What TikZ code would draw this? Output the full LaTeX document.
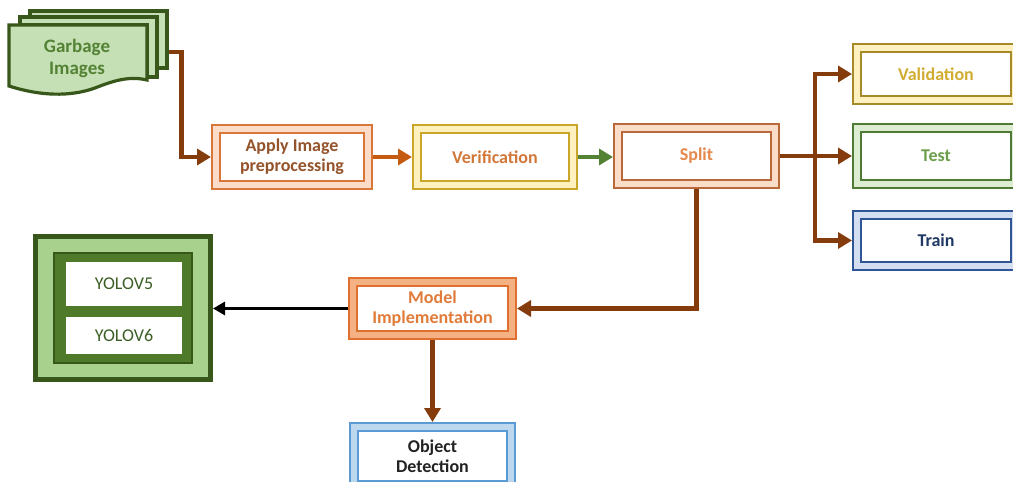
\documentclass[tikz,border=0pt]{standalone}
\usepackage{fontspec}
\setmainfont{Carlito}
\usetikzlibrary{arrows.meta}
\definecolor{gdark}{HTML}{38571A}
\definecolor{glight}{HTML}{C5E0B4}
\definecolor{gtext}{HTML}{548235}
\definecolor{ymid}{HTML}{A9D18E}
\definecolor{yinner}{HTML}{4E7A2A}
\definecolor{ytext}{HTML}{3A5E25}
\definecolor{arrbrown}{HTML}{843C0C}
\definecolor{arrorange}{HTML}{C55A11}
\definecolor{arrgreen}{HTML}{548235}
\definecolor{apB}{HTML}{D9773B}
\definecolor{apF}{HTML}{FBDCC8}
\definecolor{apT}{HTML}{94532A}
\definecolor{veB}{HTML}{C9A62A}
\definecolor{veF}{HTML}{FFF0C0}
\definecolor{veT}{HTML}{D2773A}
\definecolor{spB}{HTML}{B9683A}
\definecolor{spF}{HTML}{FBDCC8}
\definecolor{spT}{HTML}{E5884A}
\definecolor{vaB}{HTML}{A68A2A}
\definecolor{vaF}{HTML}{FFF0C0}
\definecolor{vaT}{HTML}{D2AC30}
\definecolor{teB}{HTML}{4F7A35}
\definecolor{teF}{HTML}{DDEDD2}
\definecolor{teT}{HTML}{6A9E4A}
\definecolor{trB}{HTML}{2F5597}
\definecolor{trF}{HTML}{D3DEF1}
\definecolor{trT}{HTML}{1F3864}
\definecolor{moB}{HTML}{E07030}
\definecolor{moF}{HTML}{F4B183}
\definecolor{moT}{HTML}{E07B39}
\definecolor{obB}{HTML}{5B9BD5}
\definecolor{obF}{HTML}{BDD7EE}
\definecolor{obT}{HTML}{222222}
\tikzset{
  dbox/.style n args={3}{draw=#1, double=#2, double distance=5.5pt, line width=2.2pt,
    fill=white, text=#3, outer sep=5pt, inner sep=0pt, align=center,
    font=\bfseries\fontsize{18}{20}\selectfont},
  tip/.style={-{Triangle[length=14pt,width=16pt]}},
  barrow/.style={draw=arrbrown, line width=4.2pt, tip},
  oarrow/.style={draw=arrorange, line width=3.8pt, tip},
  garrow/.style={draw=arrgreen, line width=3.8pt, tip},
  karrow/.style={draw=black, line width=3pt, -{Triangle[length=12pt,width=13pt]}},
  doc/.style={fill=glight, draw=gdark, line width=3.2pt, line join=miter},
  ybox/.style={fill=white, draw=none, text=ytext, inner sep=0pt,
    font=\fontsize{18}{20}\selectfont}
}
\begin{document}
\begin{tikzpicture}[x=1pt,y=-1pt]
\clip (0,0) rectangle (1013,482);
% Garbage images (multi-document)
\draw[doc] (30,11) -- (167,11) -- (167,68) -- (157,68) -- (157,17) -- (30,17) -- cycle;
\draw[doc] (20,17) -- (157,17) -- (157,77) -- (147,77) -- (147,25) -- (20,25) -- cycle;
\draw[doc] (9,25) -- (147,25) -- (147,80) .. controls (130,76) and (115,80) .. (95,88)
  .. controls (70,97) and (40,96) .. (9,86) -- cycle;
\node[text=gtext, align=center, font=\bfseries\fontsize{19}{22}\selectfont] (garbage) at (77,58) {Garbage\\Images};
\coordinate (gout) at (168.5,52);
% main boxes
\node[dbox={apB}{apF}{apT}, minimum width=152pt, minimum height=56pt] (apply) at (292,157) {Apply Image\\preprocessing};
\node[dbox={veB}{veF}{veT}, minimum width=156pt, minimum height=56pt] (verif) at (495,157) {Verification};
\node[dbox={spB}{spF}{spT}, minimum width=157pt, minimum height=56pt] (split) at (696.5,156) {Split};
\node[dbox={vaB}{vaF}{vaT}, minimum width=158pt, minimum height=52pt] (valid) at (936,74) {Validation};
\node[dbox={teB}{teF}{teT}, minimum width=158pt, minimum height=56pt] (test) at (936,156) {Test};
\node[dbox={trB}{trF}{trT}, minimum width=158pt, minimum height=51pt] (train) at (936,240.5) {Train};
\node[dbox={moB}{moF}{moT}, minimum width=159pt, minimum height=53pt] (model) at (432.5,308.5) {Model\\Implementation};
\node[dbox={obB}{obF}{obT}, minimum width=157pt, minimum height=58pt] (objdet) at (432.5,456) {Object\\Detection};
% YOLO box
\node[fill=ymid, draw=gdark, line width=5pt, minimum width=175pt, minimum height=143pt, outer sep=2.5pt] (yolo) at (123,308) {};
\node[fill=yinner, draw=gdark, line width=2pt, minimum width=138pt, minimum height=110pt] (yinner) at (123,308) {};
\node[ybox, minimum width=116pt, minimum height=44pt] (y5) at (124,284) {YOLOV5};
\node[ybox, minimum width=116pt, minimum height=37pt] (y6) at (124,335) {YOLOV6};
% connectors
\coordinate (br) at (815,156);
\draw[barrow] (gout) -- ++(13,0) |- (apply.west);
\draw[oarrow] (apply.east) -- (verif.west);
\draw[garrow] (verif.east) -- (verif.east -| split.west);
\draw[barrow] (split.east) -- (test.west);
\draw[barrow] (br) |- (valid.west);
\draw[barrow] (br) |- (train.west);
\draw[barrow] (split.south) |- (model.east);
\draw[barrow] (model.south) -- (objdet.north);
\draw[karrow] (model.west) -- (model.west -| yolo.east);
\end{tikzpicture}
\end{document}
